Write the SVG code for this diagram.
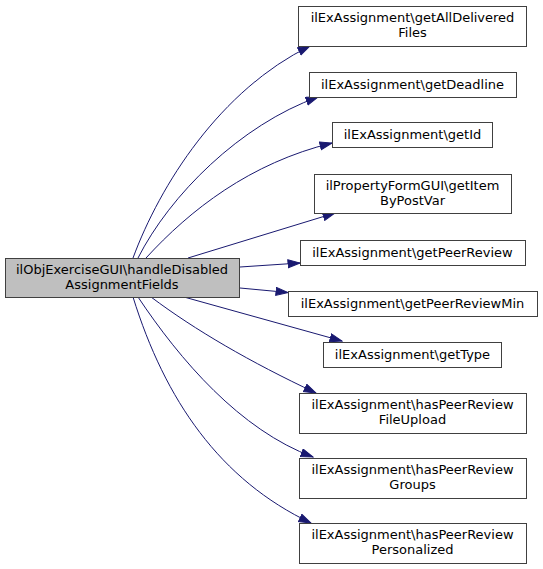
<svg xmlns="http://www.w3.org/2000/svg" width="543" height="569" viewBox="0 0 543 569">
<style>
.n rect{fill:#ffffff;stroke:#404040;stroke-width:1}
.m rect{fill:#bfbfbf;stroke:#404040;stroke-width:1}
text{font-family:"DejaVu Sans",sans-serif;font-size:13px;fill:#000000;text-anchor:middle}
.e path{fill:none;stroke:#191970;stroke-width:1;marker-end:url(#ah)}
</style>
<defs>
<marker id="ah" markerUnits="userSpaceOnUse" markerWidth="14" markerHeight="10" refX="12.5" refY="4.5" orient="auto">
<path d="M0.5,0.5 L12.5,4.5 L0.5,8.5 z" fill="#191970" stroke="#191970" stroke-width="1"/>
</marker>
</defs>
<rect width="543" height="569" fill="#ffffff"/>
<g id="edges" class="e">
<path d="M133,258 C160,185 220,90 310,46"/>
<path d="M138,258 C170,195 240,125 318,97"/>
<path d="M146,258 C190,210 250,163 332,143"/>
<path d="M188,258 L335,213"/>
<path d="M240,267 L300,263"/>
<path d="M240,288 L288,292.5"/>
<path d="M184,297 L342,341"/>
<path d="M151,297 C195,330 250,362 316,393"/>
<path d="M138,297 C180,360 240,430 313,457"/>
<path d="M133,297 C165,400 220,480 311,523"/>
</g>
<g id="main" class="m"><rect x="5.5" y="258.5" width="234" height="39"/><text x="122" y="274">ilObjExerciseGUI\handleDisabled</text><text x="122" y="289">AssignmentFields</text></g>
<g id="n1" class="n"><rect x="298.5" y="6.5" width="228" height="40"/><text x="412.5" y="22">ilExAssignment\getAllDelivered</text><text x="412.5" y="37">Files</text></g>
<g id="n2" class="n"><rect x="309.5" y="72.5" width="207" height="25"/><text x="412.5" y="89">ilExAssignment\getDeadline</text></g>
<g id="n3" class="n"><rect x="332.5" y="122.5" width="160" height="25"/><text x="412.5" y="139">ilExAssignment\getId</text></g>
<g id="n4" class="n"><rect x="314.5" y="174.5" width="197" height="39"/><text x="412.5" y="190">ilPropertyFormGUI\getItem</text><text x="412.5" y="205">ByPostVar</text></g>
<g id="n5" class="n"><rect x="300.5" y="240.5" width="225" height="25"/><text x="412.5" y="257">ilExAssignment\getPeerReview</text></g>
<g id="n6" class="n"><rect x="288.5" y="291.5" width="249" height="25"/><text x="412.5" y="308">ilExAssignment\getPeerReviewMin</text></g>
<g id="n7" class="n"><rect x="323.5" y="342.5" width="178" height="25"/><text x="412.5" y="359">ilExAssignment\getType</text></g>
<g id="n8" class="n"><rect x="299.5" y="393.5" width="227" height="40"/><text x="412.5" y="409">ilExAssignment\hasPeerReview</text><text x="412.5" y="424">FileUpload</text></g>
<g id="n9" class="n"><rect x="299.5" y="458.5" width="227" height="40"/><text x="412.5" y="474">ilExAssignment\hasPeerReview</text><text x="412.5" y="489">Groups</text></g>
<g id="n10" class="n"><rect x="299.5" y="523.5" width="227" height="40"/><text x="412.5" y="539">ilExAssignment\hasPeerReview</text><text x="412.5" y="554">Personalized</text></g>
</svg>
